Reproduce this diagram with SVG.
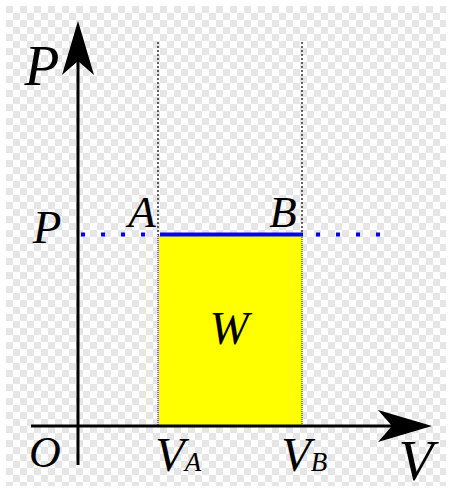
<svg xmlns="http://www.w3.org/2000/svg" width="450" height="492" viewBox="0 0 450 492">
  <defs>
    <pattern id="checker" patternUnits="userSpaceOnUse" x="6" y="6" width="14" height="14">
      <rect x="0" y="0" width="14" height="14" fill="#ffffff"/>
      <rect x="0" y="0" width="7" height="7" fill="#e6e6e6"/>
      <rect x="7" y="7" width="7" height="7" fill="#e6e6e6"/>
    </pattern>
    <style>
      .lbl { font-family: "Liberation Serif", "Times New Roman", serif; font-style: italic; fill: #000; text-anchor: middle; }
      .axis { stroke: #000; stroke-width: 3; fill: none; }
      .guide { stroke: #000; stroke-width: 1.2; stroke-dasharray: 2 2; fill: none; }
      .pdot { stroke: #0000ff; stroke-width: 4; stroke-dasharray: 4 16; fill: none; }
    </style>
  </defs>
  <rect x="0" y="0" width="450" height="492" fill="#ffffff"/>
  <rect x="6" y="6" width="440" height="480" fill="url(#checker)"/>

  <g id="work-area">
    <rect x="158" y="235" width="144" height="191" fill="#ffff00" stroke="#0000ff" stroke-width="1" stroke-dasharray="1 1"/>
  </g>

  <g id="connectors">
    <line class="guide" x1="158" y1="42" x2="158" y2="235"/>
    <line class="guide" x1="302" y1="42" x2="302" y2="235"/>
    <line class="pdot" x1="81" y1="234.5" x2="160" y2="234.5"/>
    <line class="pdot" x1="316" y1="234.5" x2="385" y2="234.5"/>
    <line x1="160" y1="234.5" x2="303" y2="234.5" stroke="#0000ff" stroke-width="4"/>
    <g id="p-axis">
      <line class="axis" x1="78" y1="465" x2="78" y2="58"/>
      <polygon points="78,21 94,75 78,61 62,75" fill="#000"/>
    </g>
    <g id="v-axis">
      <line class="axis" x1="31" y1="426" x2="396" y2="426"/>
      <polygon points="432,426 378,442 392,426 378,410" fill="#000"/>
    </g>
  </g>

  <g id="labels">
    <text class="lbl" x="42" y="85" font-size="57">P</text>
    <text class="lbl" x="47" y="243" font-size="47">P</text>
    <text class="lbl" x="142" y="227" font-size="45">A</text>
    <text class="lbl" x="283" y="227" font-size="45">B</text>
    <text class="lbl" x="229" y="344" font-size="47">W</text>
    <text class="lbl" x="45" y="467" font-size="44">O</text>
    <text class="lbl" x="170" y="471" font-size="48">V</text>
    <text class="lbl" x="193" y="471" font-size="27">A</text>
    <text class="lbl" x="296" y="471" font-size="48">V</text>
    <text class="lbl" x="319" y="471" font-size="27">B</text>
    <text class="lbl" x="416" y="480" font-size="57">V</text>
  </g>
</svg>
